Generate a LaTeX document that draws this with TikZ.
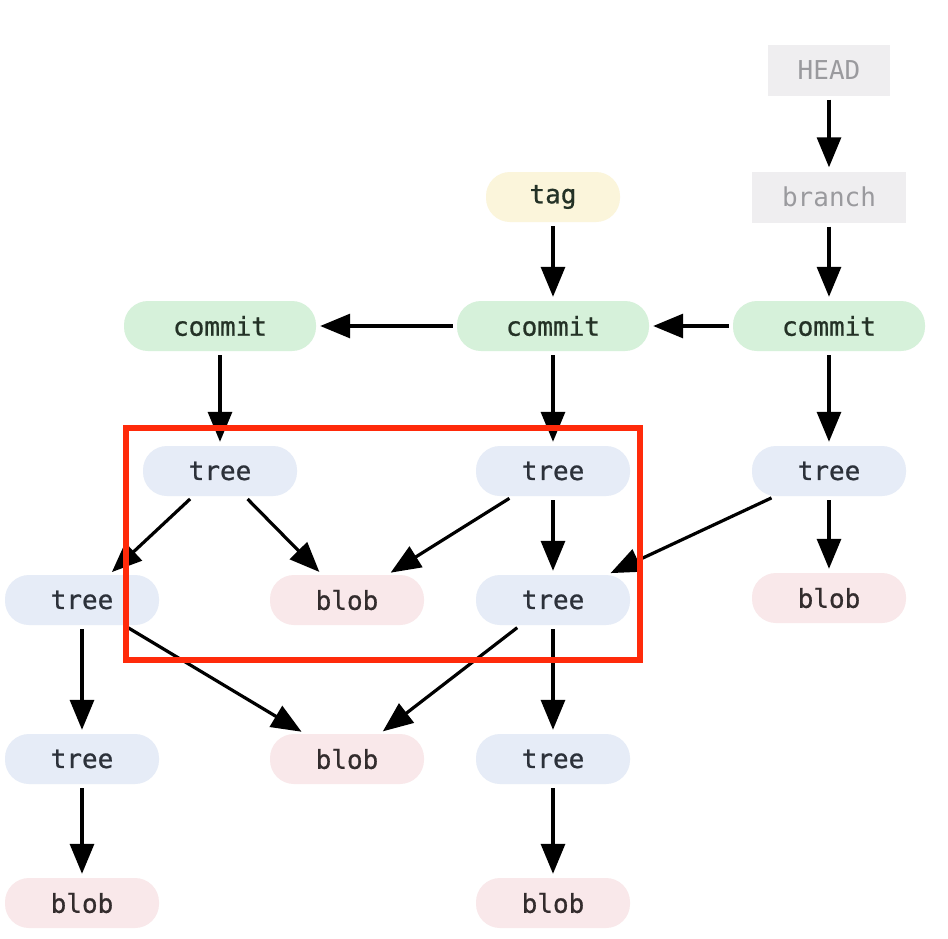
\documentclass[tikz,border=0pt]{standalone}
\usepackage{fontspec}
\setmonofont{DejaVu Sans Mono}
\newfontfamily\objfont{DejaVu Sans Mono}[FakeBold=0.8]
\usetikzlibrary{arrows.meta}
\definecolor{commitfill}{HTML}{D6F1DA}
\definecolor{treefill}{HTML}{E6ECF7}
\definecolor{blobfill}{HTML}{F9E8EA}
\definecolor{tagfill}{HTML}{FBF5DB}
\definecolor{reffill}{HTML}{EFEEF0}
\definecolor{reftext}{HTML}{9A9A9E}
\definecolor{commtext}{HTML}{243226}
\definecolor{treetext}{HTML}{2C313A}
\definecolor{blobtext}{HTML}{332C2D}
\definecolor{boxred}{HTML}{FF2A0A}
\tikzset{
  obj/.style={rounded corners=24pt, minimum height=50pt, inner sep=0pt,
              font=\objfont\fontsize{26}{26}\selectfont},
  commitbox/.style={obj, fill=commitfill, text=commtext, minimum width=192pt},
  treebox/.style={obj, fill=treefill, text=treetext, minimum width=154pt},
  blobbox/.style={obj, fill=blobfill, text=blobtext, minimum width=154pt},
  tagbox/.style={obj, fill=tagfill, text=commtext, minimum width=134pt},
  refbox/.style={rectangle, minimum height=51pt, inner sep=0pt, fill=reffill, text=reftext,
              font=\ttfamily\fontsize{26}{26}\selectfont},
  link/.style={line width=3.2pt, black, shorten >=4pt, shorten <=4pt,
              -{Triangle[length=30pt,width=24pt]}},
  highlight/.style={draw=boxred, line width=6pt}
}
\begin{document}
\begin{tikzpicture}[x=1pt,y=-1pt]
\useasboundingbox[fill=white] (0,0) rectangle (948,938);
% refs
\node[refbox, minimum width=122pt] (head) at (829,70) {HEAD};
\node[refbox, minimum width=154pt] (branch) at (829,197) {branch};
\node[tagbox] (tag) at (553,197) {tag};
% commits
\node[commitbox] (c1) at (220,326) {commit};
\node[commitbox] (c2) at (553,326) {commit};
\node[commitbox] (c3) at (829,326) {commit};
% row 1
\node[treebox] (tA) at (220,471) {tree};
\node[treebox] (tB) at (553,471) {tree};
\node[treebox] (tC) at (829,471) {tree};
% row 2
\node[treebox] (tD) at (82,600) {tree};
\node[blobbox] (b1) at (347,600) {blob};
\node[treebox] (tE) at (553,600) {tree};
\node[blobbox] (b2) at (829,598) {blob};
% row 3
\node[treebox] (tF) at (82,759) {tree};
\node[blobbox] (b3) at (347,759) {blob};
\node[treebox] (tG) at (553,759) {tree};
% row 4
\node[blobbox] (b4) at (82,903) {blob};
\node[blobbox] (b5) at (553,903) {blob};
% edges
\draw[link] (head) -- (branch);
\draw[link] (branch) -- (c3);
\draw[link] (tag) -- (c2);
\draw[link] (c3) -- (c2);
\draw[link] (c2) -- (c1);
\draw[link] (c1) -- (tA);
\draw[link] (c2) -- (tB);
\draw[link] (c3) -- (tC);
\draw[link] (tA) -- (tD);
\draw[link] (tA) -- (b1);
\draw[link] (tB) -- (b1);
\draw[link] (tB) -- (tE);
\draw[link] (tC) -- (tE);
\draw[link] (tC) -- (b2);
\draw[link] (tD) -- (tF);
\draw[link] (tD) -- (b3);
\draw[link] (tE) -- (b3);
\draw[link] (tE) -- (tG);
\draw[link] (tF) -- (b4);
\draw[link] (tG) -- (b5);
% highlight box
\coordinate (hl1) at (126.3,428);
\coordinate (hl2) at (639.7,660);
\draw[highlight] (hl1) rectangle (hl2);
\end{tikzpicture}
\end{document}
